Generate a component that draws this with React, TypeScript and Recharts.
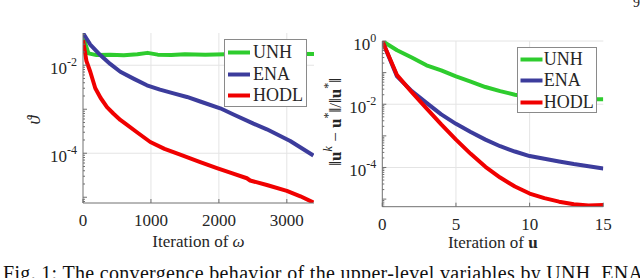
import React from 'react';
import { LineChart, Line, XAxis, YAxis, CartesianGrid, Legend, Label } from 'recharts';

// ---------- data: left panel (iterations of omega) ----------
const omegaUnhIter = [0, 80, 200, 400, 600, 800, 950, 1100, 1300, 1500, 1800, 2100, 2400, 2700, 3000, 3400];
const omegaUnhVals = [4.5e-2, 1.86e-2, 1.7e-2, 1.74e-2, 1.68e-2, 1.78e-2, 1.91e-2, 1.74e-2, 1.7e-2, 1.78e-2, 1.74e-2, 1.78e-2, 1.82e-2, 1.78e-2, 1.82e-2, 1.8e-2];

const omegaEnaIter = [0, 107, 254, 400, 549, 750, 941, 1133, 1333, 1530, 1725, 2020, 2215, 2509, 2706, 3050, 3391];
const omegaEnaVals = [5.4e-2, 2.95e-2, 1.7e-2, 1.07e-2, 7.1e-3, 4.9e-3, 3.5e-3, 2.8e-3, 2.3e-3, 1.9e-3, 1.5e-3, 1.05e-3, 7.6e-4, 4.7e-4, 3.5e-4, 1.9e-4, 8.9e-5];

const omegaHodlIter = [0, 50, 107, 181, 260, 353, 450, 549, 624, 794, 990, 1200, 1431, 1725, 1971, 2200, 2412, 2460, 2706, 3000, 3200, 3391];
const omegaHodlVals = [3.7e-2, 1.26e-2, 7.1e-3, 3.0e-3, 1.8e-3, 1.12e-3, 7.9e-4, 5.7e-4, 4.7e-4, 3.0e-4, 1.8e-4, 1.26e-4, 9.3e-5, 6.3e-5, 4.6e-5, 3.5e-5, 2.7e-5, 2.4e-5, 1.9e-5, 1.4e-5, 1.05e-5, 7.6e-6];

const omegaTicks = [0, 1000, 2000, 3000];
const omegaGrid = [1000, 2000, 3000];
const omegaDomain: [number, number] = [0, 3400];
const thetaMajor = [1e-4, 1e-2];
const thetaDomain: [number, number] = [7.4e-6, 5.4e-2];

// ---------- data: right panel (iterations of u) ----------
const uIter = [0, 1, 2, 3, 4, 5, 6, 7, 8, 9, 10, 11, 12, 13, 14, 15];
const uUnhVals = [1, 0.51, 0.3, 0.17, 0.117, 0.076, 0.052, 0.035, 0.026, 0.02, 0.017, 0.0158, 0.0151, 0.0148, 0.0145, 0.0145];
const uEnaVals = [1, 0.076, 0.026, 0.011, 4.8e-3, 2.4e-3, 1.32e-3, 7.6e-4, 4.7e-4, 3.2e-4, 2.3e-4, 1.9e-4, 1.55e-4, 1.29e-4, 1.1e-4, 9.3e-5];
const uHodlVals = [1, 0.083, 0.024, 7.4e-3, 2.3e-3, 7.6e-4, 2.7e-4, 1.05e-4, 4.8e-5, 2.5e-5, 1.5e-5, 1.07e-5, 8.3e-6, 6.9e-6, 6.3e-6, 6.5e-6];

const uTicks = [0, 5, 10, 15];
const uGrid = [5, 10];
const uDomain: [number, number] = [0, 15];
const errMajor = [1e-4, 1e-2, 1];
const errDomain: [number, number] = [5.75e-6, 1];

const seriesNames = ['UNH', 'ENA', 'HODL'];

// ---------- styles ----------
const FONT = "'Liberation Serif', 'Times New Roman', Times, serif";
const TXT = '#262626';
const AXIS = '#707070';
const GRID = '#e4e4e4';
const GREEN = '#2ecc2e';
const BLUE = '#3c3c9c';
const RED = '#f00000';
const COLORS = [GREEN, BLUE, RED];
const tStyle: React.CSSProperties = { fontFamily: FONT };

const toRows = (iters: number[], vals: number[]) => iters.map((it, i) => ({ it, v: vals[i] }));

function logTicks(lo: number, hi: number) {
  const out: number[] = [];
  for (let e = Math.floor(Math.log10(lo)); e <= Math.ceil(Math.log10(hi)); e++) {
    for (let m = 1; m <= 9; m++) {
      const v = Number((m * Math.pow(10, e)).toPrecision(6));
      if (v >= lo * 0.9999 && v <= hi * 1.0001) out.push(v);
    }
  }
  return out;
}

const isDecade = (v: number) => Math.abs(Math.log10(v) - Math.round(Math.log10(v))) < 1e-6;

const makeYTick = (majors: number[], side: 'left' | 'right') => (props: any) => {
  const { x, y, payload } = props;
  const v = payload.value;
  const dec = isDecade(v);
  const len = dec ? 4 : 2;
  const dir = side === 'left' ? 1 : -1;
  const labeled = side === 'left' && majors.some((m) => Math.abs(m - v) / m < 1e-6);
  const exp = Math.round(Math.log10(v));
  return (
    <g>
      <line x1={x} x2={x + dir * len} y1={y} y2={y} stroke={AXIS} strokeWidth={1} />
      {labeled && (
        <text x={x - 6} y={y + 9} textAnchor="end" fontFamily={FONT} style={tStyle} fontSize={17} fill={TXT}>
          10
          <tspan dy={-8} fontSize={12}>{exp === 0 ? '0' : '-' + Math.abs(exp)}</tspan>
        </text>
      )}
    </g>
  );
};

const makeXTick = (side: 'bottom' | 'top') => (props: any) => {
  const { x, y, payload } = props;
  const dir = side === 'bottom' ? -1 : 1;
  return (
    <g>
      <line x1={x} x2={x} y1={y} y2={y + dir * 4} stroke={AXIS} strokeWidth={1} />
      {side === 'bottom' && (
        <text x={x} y={y + 23} textAnchor="middle" fontFamily={FONT} style={tStyle} fontSize={17} fill={TXT}>
          {payload.value}
        </text>
      )}
    </g>
  );
};

const makeLegend = (box: { w: number; h: number; pt: number; lx: number; tx: number }) => (props: any) => {
  const payload = [...(props.payload || [])].sort(
    (a: any, b: any) => seriesNames.indexOf(a.value) - seriesNames.indexOf(b.value)
  );
  return (
    <div
      style={{
        width: box.w,
        height: box.h,
        boxSizing: 'border-box',
        border: '1px solid #8a8a8a',
        background: '#fff',
        paddingTop: box.pt,
      }}
    >
      {payload.map((p: any) => (
        <div key={p.value} style={{ height: 21.5, position: 'relative' }}>
          <svg width={box.tx} height={21.5} style={{ position: 'absolute', left: 0, top: 0 }}>
            <line x1={box.lx} x2={box.lx + 22} y1={11.5} y2={11.5} stroke={p.color} strokeWidth={4} />
          </svg>
          <span
            style={{
              position: 'absolute',
              left: box.tx,
              top: 0,
              fontFamily: FONT,
              fontSize: 18,
              lineHeight: '22px',
              color: TXT,
              whiteSpace: 'nowrap',
            }}
          >
            {p.value}
          </span>
        </div>
      ))}
    </div>
  );
};

const ThetaLabel = (props: any) => {
  const vb = props.viewBox;
  const cx = vb.x - 9;
  const cy = vb.y + vb.height / 2 + 2;
  return (
    <text
      x={cx}
      y={cy}
      transform={`rotate(-90, ${cx}, ${cy})`}
      textAnchor="middle"
      dominantBaseline="central"
      fontFamily={FONT}
      style={tStyle}
      fontStyle="italic"
      fontSize={18}
      fill={TXT}
    >
      ϑ
    </text>
  );
};

const ErrLabel = (props: any) => {
  const vb = props.viewBox;
  const cx = vb.x - 7;
  const cy = vb.y + vb.height / 2 - 2;
  return (
    <text
      x={cx}
      y={cy}
      transform={`rotate(-90, ${cx}, ${cy})`}
      textAnchor="middle"
      dominantBaseline="central"
      fontFamily={FONT}
      style={tStyle}
      fontSize={17}
      fill={TXT}
    >
      ‖<tspan fontWeight="bold">u</tspan>
      <tspan dy={-7} fontSize={12} fontStyle="italic">k</tspan>
      <tspan dy={7}> − </tspan>
      <tspan fontWeight="bold">u</tspan>
      <tspan dy={-7} fontSize={12}>*</tspan>
      <tspan dy={7}>‖/‖</tspan>
      <tspan fontWeight="bold">u</tspan>
      <tspan dy={-7} fontSize={12}>*</tspan>
      <tspan dy={7}>‖</tspan>
    </text>
  );
};

const OmegaXLabel = (props: any) => {
  const vb = props.viewBox;
  return (
    <text x={vb.x + vb.width / 2} y={vb.y + 44} textAnchor="middle" fontFamily={FONT} style={tStyle} fontSize={17} fill={TXT}>
      Iteration of <tspan fontStyle="italic">ω</tspan>
    </text>
  );
};

const UXLabel = (props: any) => {
  const vb = props.viewBox;
  return (
    <text x={vb.x + vb.width / 2} y={vb.y + 41.5} textAnchor="middle" fontFamily={FONT} style={tStyle} fontSize={17} fill={TXT}>
      Iteration of <tspan fontWeight="bold">u</tspan>
    </text>
  );
};

function Panel(props: {
  left: number;
  margin: any;
  series: { it: number; v: number }[][];
  xDomain: [number, number];
  xTicks: number[];
  xGrid: number[];
  yDomain: [number, number];
  yMajor: number[];
  XLab: any;
  YLab: any;
  legendBox: any;
}) {
  const yTicks = logTicks(props.yDomain[0], props.yDomain[1]);
  return (
    <div style={{ position: 'absolute', left: props.left, top: 0, fontFamily: FONT }}>
      <LineChart width={320} height={278} margin={props.margin} style={{ fontFamily: FONT }}>
        <CartesianGrid
          stroke={GRID}
          strokeWidth={1}
          horizontalValues={props.yMajor}
          verticalValues={props.xGrid}
        />
        <XAxis
          dataKey="it"
          type="number"
          domain={props.xDomain}
          allowDataOverflow
          ticks={props.xTicks}
          interval={0}
          tickSize={0}
          tickMargin={0}
          height={30}
          axisLine={{ stroke: AXIS, strokeWidth: 1 }}
          tickLine={false}
          tick={makeXTick('bottom')}
        >
          <Label content={props.XLab} />
        </XAxis>
        <XAxis
          xAxisId="top"
          orientation="top"
          dataKey="it"
          type="number"
          domain={props.xDomain}
          allowDataOverflow
          ticks={props.xTicks}
          interval={0}
          tickSize={0}
          tickMargin={0}
          height={0}
          axisLine={{ stroke: AXIS, strokeWidth: 1 }}
          tickLine={false}
          tick={makeXTick('top')}
        />
        <YAxis
          type="number"
          scale="log"
          domain={props.yDomain}
          allowDataOverflow
          ticks={yTicks}
          interval={0}
          tickSize={0}
          tickMargin={0}
          width={40}
          axisLine={{ stroke: AXIS, strokeWidth: 1 }}
          tickLine={false}
          tick={makeYTick(props.yMajor, 'left')}
        >
          <Label content={props.YLab} />
        </YAxis>
        <YAxis
          yAxisId="right"
          orientation="right"
          type="number"
          scale="log"
          domain={props.yDomain}
          allowDataOverflow
          ticks={yTicks}
          interval={0}
          tickSize={0}
          tickMargin={0}
          width={0}
          axisLine={{ stroke: AXIS, strokeWidth: 1 }}
          tickLine={false}
          tick={makeYTick(props.yMajor, 'right')}
        />
        {props.series.map((rows, i) => (
          <Line
            key={seriesNames[i]}
            name={seriesNames[i]}
            data={rows}
            dataKey="v"
            type="linear"
            stroke={COLORS[i]}
            strokeWidth={4}
            strokeLinejoin="round"
            dot={false}
            activeDot={false}
            isAnimationActive={false}
          />
        ))}
        <Legend
          layout="vertical"
          align="center"
          verticalAlign="middle"
          wrapperStyle={{
            left: props.legendBox.left,
            top: props.legendBox.top,
            width: props.legendBox.w,
            height: props.legendBox.h,
          }}
          content={makeLegend(props.legendBox)}
        />
      </LineChart>
    </div>
  );
}

export default function App() {
  const leftSeries = [
    toRows(omegaUnhIter, omegaUnhVals),
    toRows(omegaEnaIter, omegaEnaVals),
    toRows(omegaHodlIter, omegaHodlVals),
  ];
  const rightSeries = [toRows(uIter, uUnhVals), toRows(uIter, uEnaVals), toRows(uIter, uHodlVals)];
  return (
    <div style={{ position: 'absolute', left: 0, top: 0, width: 640, height: 278, background: '#fff', overflow: 'hidden', fontFamily: FONT }}>
      <Panel
        left={0}
        margin={{ top: 33, right: 6, bottom: 45, left: 43 }}
        series={leftSeries}
        xDomain={omegaDomain}
        xTicks={omegaTicks}
        xGrid={omegaGrid}
        yDomain={thetaDomain}
        yMajor={thetaMajor}
        XLab={OmegaXLabel}
        YLab={ThetaLabel}
        legendBox={{ left: 224, top: 39, w: 83, h: 68, pt: 1, lx: 3, tx: 28 }}
      />
      <Panel
        left={320}
        margin={{ top: 41, right: 36.7, bottom: 41.3, left: 22.3 }}
        series={rightSeries}
        xDomain={uDomain}
        xTicks={uTicks}
        xGrid={uGrid}
        yDomain={errDomain}
        yMajor={errMajor}
        XLab={UXLabel}
        YLab={ErrLabel}
        legendBox={{ left: 196.7, top: 46.7, w: 80, h: 66.7, pt: 0, lx: 2.5, tx: 26 }}
      />
      <svg width={640} height={278} style={{ position: 'absolute', left: 0, top: 0, pointerEvents: 'none' }}>
        <text x={633} y={7} fontFamily={FONT} style={tStyle} fontSize={14} fill="#222">9</text>
        <text
          x={3}
          y={280}
          fontFamily={FONT}
          style={tStyle}
          fontSize={20}
          fill="#111"
          textLength={640}
          lengthAdjust="spacing"
        >
          Fig. 1: The convergence behavior of the upper-level variables by UNH, ENA
        </text>
      </svg>
    </div>
  );
}
